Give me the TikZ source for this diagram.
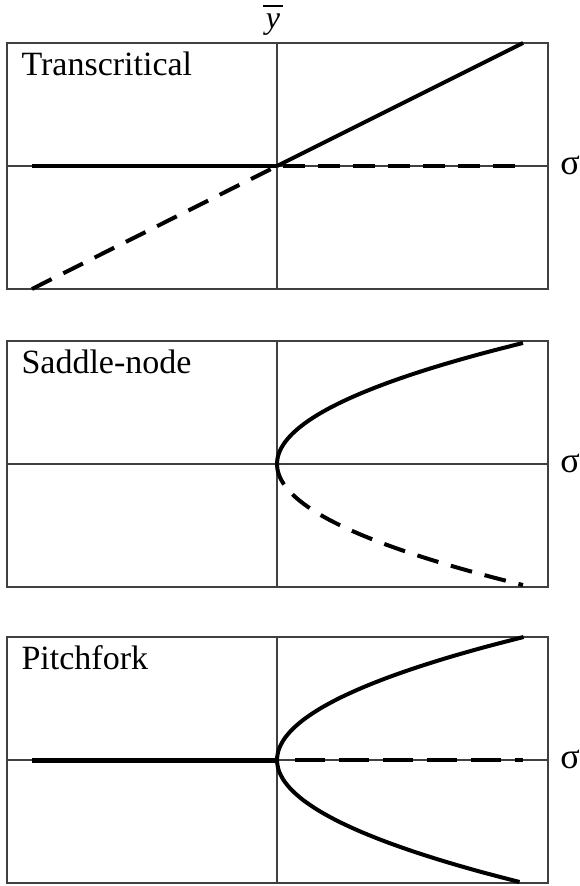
\documentclass[tikz,border=0pt]{standalone}
\usepackage{fontspec}
\setmainfont{Liberation Serif}
\tikzset{
  frame/.style={draw=black!75, line width=1.2pt},
  axis/.style={draw=black!75, line width=1.1pt},
  stable/.style={line width=4pt},
  unstable/.style={line width=4pt, dash pattern=on 22pt off 13pt},
  title/.style={anchor=base west, font=\fontsize{34}{38}\selectfont},
  lbl/.style={font=\fontsize{36}{40}\selectfont}
}
\begin{document}
\begin{tikzpicture}[x=1pt,y=-1pt]
  \useasboundingbox (0,0) rectangle (579,886);
  % the three frames with their axes
  \foreach \t/\name in {43/Transcritical,341/Saddle-node,637/Pitchfork}{
    \draw[frame] (7,\t) rectangle (548,\t+246);
    \draw[axis] (277,\t) -- (277,\t+246);
    \draw[axis] (7,\t+123) -- (548,\t+123);
    \node[title] (name\t) at (18,\t+32) {\name};
    \node[lbl] (sigma\t) at (570,\t+122) {σ};
  }
  \node[inner sep=0pt, font=\fontsize{32}{36}\itshape] (ybar) at (273,25) {y};
  \draw[line width=1.6pt] ([xshift=-3pt, yshift=8pt]ybar.north west) -- ([xshift=3pt, yshift=8pt]ybar.north east);

  % transcritical
  \draw[stable] (32,166) -- (277,166);
  \draw[stable] (277,166) -- (523,43);
  \draw[unstable] (32,289) -- (277,166);
  \draw[unstable] (283,166) -- (523,166);

  % saddle-node
  \draw[stable] plot[smooth, variable=\s, domain=0:-121] ({277+0.0168*\s*\s},{464+\s});
  \draw[unstable] plot[smooth, variable=\s, domain=0:121] ({277+0.0168*\s*\s},{464+\s});

  % pitchfork
  \draw[line width=5pt] (32,760) -- (277,760);
  \draw[unstable, dash pattern=on 30pt off 14pt] (295,760) -- (523,760);
  \draw[stable] plot[smooth, variable=\s, domain=-123:122] ({277+0.0163*\s*\s},{760+\s});
\end{tikzpicture}
\end{document}
